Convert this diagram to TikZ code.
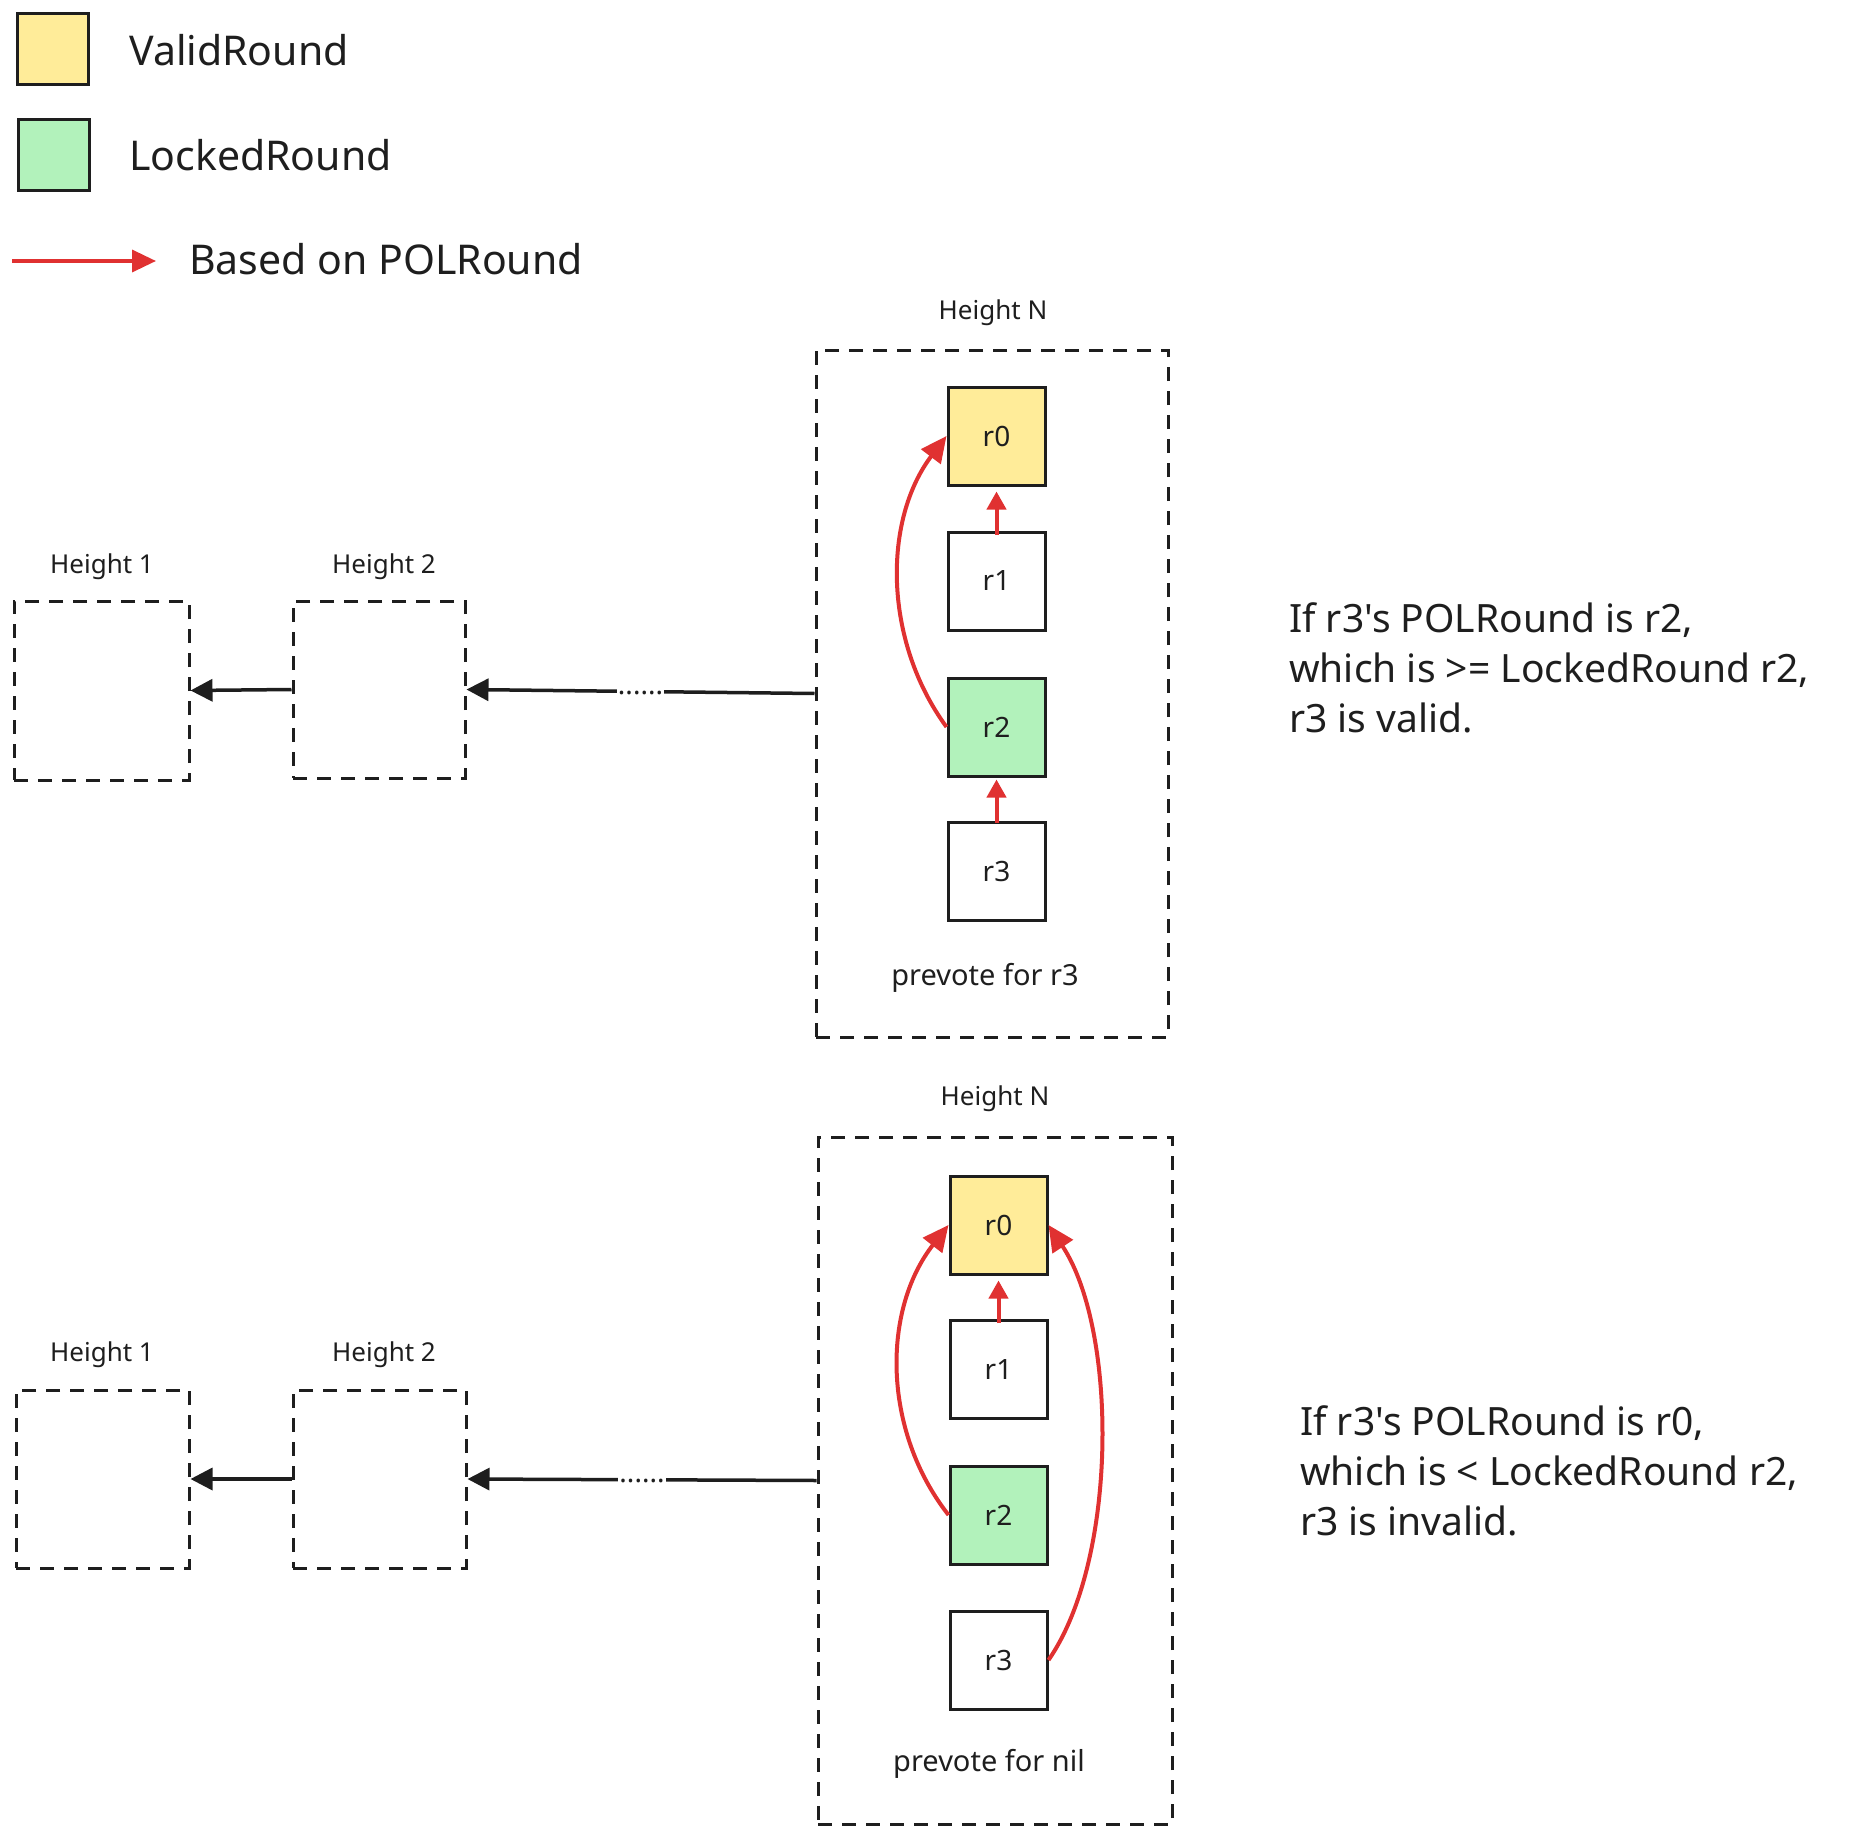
\documentclass[tikz,border=0pt]{standalone}
\usepackage{fontspec}
\setmainfont{Noto Sans}[Ligatures=TeXOff]
\usetikzlibrary{arrows.meta}
\definecolor{ink}{HTML}{1E1E1E}
\definecolor{vyellow}{HTML}{FFEC99}
\definecolor{lgreen}{HTML}{B2F2BB}
\definecolor{polred}{HTML}{E03131}
\begin{document}
\begin{tikzpicture}[x=1pt,y=-1pt,
  roundbox/.style={draw=ink, line width=3pt, minimum width=97pt, minimum height=98pt, inner sep=0pt, text=ink, font=\fontsize{28}{32}\selectfont},
  heightbox/.style={draw=ink, line width=3pt, dash pattern=on 14pt off 10pt, inner sep=0pt},
  hlabel/.style={font=\fontsize{26}{30}\selectfont, text=ink, inner sep=0pt},
  notelabel/.style={font=\fontsize{29}{34}\selectfont, text=ink, inner sep=0pt},
  legendtext/.style={font=\fontsize{41}{46}\selectfont, text=ink, inner sep=0pt, anchor=west},
  sidetext/.style={font=\fontsize{39}{50}\selectfont, text=ink, inner sep=0pt, anchor=west, align=left},
  polarrow/.style={draw=polred, line width=4pt, -{Triangle[length=26pt,width=24pt]}},
  smallpol/.style={draw=polred, line width=4pt, -{Triangle[length=18pt,width=19pt]}},
  chainarrow/.style={draw=ink, line width=3.5pt, -{Triangle[length=22pt,width=22pt]}},
  legendsq/.style={draw=ink, line width=3pt, minimum width=71pt, minimum height=71pt, inner sep=0pt},
  dotsgap/.style={fill=white, inner xsep=1pt, inner ysep=3pt, font=\bfseries\fontsize{28}{30}\selectfont, text=ink, yshift=-1pt},
]
\useasboundingbox (0,0) rectangle (1875,1838);

% ---------- legend ----------
\node[legendsq, fill=vyellow] (lgy) at (52.5,49.5) {};
\node[legendsq, fill=lgreen] (lgg) at (53.5,155) {};
\node[legendtext] (lgyt) at (129,50) {ValidRound};
\node[legendtext] (lggt) at (129,155) {LockedRound};
\coordinate (lga) at (12,261);
\coordinate (lgb) at (156,261);
\draw[draw=polred, line width=3.5pt, -{Triangle[length=24pt,width=22pt]}] (lga) -- (lgb);
\node[legendtext] (lgrt) at (189,259) {Based on POLRound};

% ---------- top scenario ----------
\node[heightbox, minimum width=352pt, minimum height=687pt] (hnA) at (992,693.5) {};
\node[hlabel] (hnAl) at (993,313) {Height N};
\node[roundbox, fill=vyellow] (r0A) at (996.5,436) {r0};
\node[roundbox, fill=white] (r1A) at (996.5,581) {r1};
\node[roundbox, fill=lgreen] (r2A) at (996.5,727) {r2};
\node[roundbox, fill=white] (r3A) at (996.5,871.5) {r3};
\node[notelabel] (pvA) at (985,978) {prevote for r3};

\node[heightbox, minimum width=175pt, minimum height=179pt] (h1A) at (101.5,690.5) {};
\node[hlabel] (h1Al) at (102,567) {Height 1};
\node[heightbox, minimum width=172pt, minimum height=177pt] (h2A) at (379,689.5) {};
\node[hlabel] (h2Al) at (384,567) {Height 2};

\draw[chainarrow] (h2A.west) -- (h1A.east);
\draw[chainarrow] (hnA.west) -- node[dotsgap] {......} (h2A.east);

\draw[smallpol, shorten <=-4pt, shorten >=5pt] (r1A.north) -- (r0A.south);
\draw[smallpol, shorten <=-2pt, shorten >=2pt] (r3A.north) -- (r2A.south);
\draw[polarrow] (r2A.west) .. controls (883,640) and (883,520) .. (r0A.west);

\node[sidetext] (txtA) at (1289,668) {If r3's POLRound is r2,\\which is >= LockedRound r2,\\r3 is valid.};

% ---------- bottom scenario ----------
\node[heightbox, minimum width=354pt, minimum height=687pt] (hnB) at (995,1480.5) {};
\node[hlabel] (hnBl) at (995,1099) {Height N};
\node[roundbox, fill=vyellow] (r0B) at (998.5,1225) {r0};
\node[roundbox, fill=white] (r1B) at (998.5,1369.5) {r1};
\node[roundbox, fill=lgreen] (r2B) at (998.5,1515) {r2};
\node[roundbox, fill=white] (r3B) at (998.5,1660) {r3};
\node[notelabel] (pvB) at (989,1764) {prevote for nil};

\node[heightbox, minimum width=173pt, minimum height=178pt] (h1B) at (102.5,1479) {};
\node[hlabel] (h1Bl) at (102,1355) {Height 1};
\node[heightbox, minimum width=173pt, minimum height=178pt] (h2B) at (379.5,1479) {};
\node[hlabel] (h2Bl) at (384,1355) {Height 2};

\draw[chainarrow] (h2B.west) -- (h1B.east);
\draw[chainarrow] (hnB.west) -- node[dotsgap] {......} (h2B.east);

\draw[smallpol, shorten <=-4pt, shorten >=5pt] (r1B.north) -- (r0B.south);
\draw[polarrow] (r2B.west) .. controls (882,1430) and (882,1310) .. (r0B.west);
\draw[polarrow] (r3B.east) .. controls (1118,1560) and (1118,1330) .. (r0B.east);

\node[sidetext] (txtB) at (1300,1471) {If r3's POLRound is r0,\\which is < LockedRound r2,\\r3 is invalid.};
\end{tikzpicture}
\end{document}
